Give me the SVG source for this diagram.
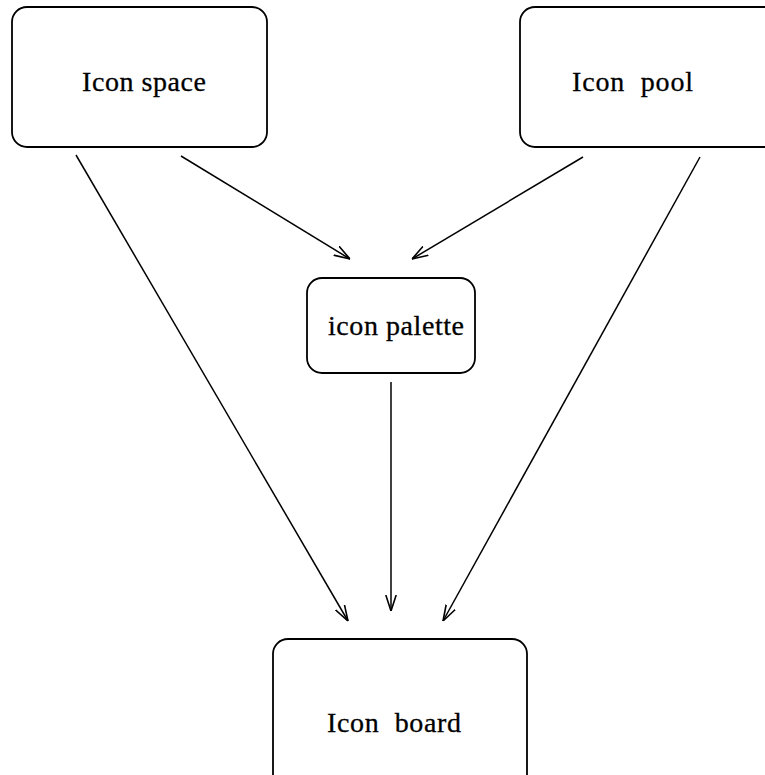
<svg xmlns="http://www.w3.org/2000/svg" width="765" height="775" viewBox="0 0 765 775">
<style>
.box{fill:#fff;stroke:#000;stroke-width:1.8}
.lbl{font-family:"Liberation Serif","Times New Roman",serif;font-size:28px;fill:#000;stroke:#000;stroke-width:0.3}
.edge{stroke:#000;stroke-width:1.5;fill:none;marker-end:url(#arr)}
</style>
<defs>
<marker id="arr" viewBox="0 0 16 12" refX="16" refY="6" markerWidth="16" markerHeight="12" markerUnits="userSpaceOnUse" orient="auto">
<path d="M0,0.8 L16,6 L0,11.2" fill="none" stroke="#000" stroke-width="1.6"/>
</marker>
</defs>
<rect width="765" height="775" fill="#fff"/>
<g id="icon-space">
<rect class="box" x="12" y="7" width="255" height="140" rx="15"/>
<text class="lbl" x="82" y="91" textLength="124" lengthAdjust="spacing">Icon space</text>
</g>
<g id="icon-pool">
<rect class="box" x="520" y="7" width="260" height="140" rx="15"/>
<text class="lbl" x="572" y="91" textLength="121" lengthAdjust="spacing" xml:space="preserve">Icon  pool</text>
</g>
<g id="icon-palette">
<rect class="box" x="307" y="278" width="168" height="95" rx="15"/>
<text class="lbl" x="328" y="335" textLength="136" lengthAdjust="spacing">icon palette</text>
</g>
<g id="icon-board">
<rect class="box" x="273" y="639" width="254" height="160" rx="15"/>
<text class="lbl" x="327" y="732" textLength="134" lengthAdjust="spacing" xml:space="preserve">Icon  board</text>
</g>
<g id="connectors">
<line class="edge" x1="181" y1="156" x2="350" y2="259"/>
<line class="edge" x1="583" y1="157" x2="412" y2="259"/>
<line class="edge" x1="76" y1="155" x2="348" y2="621"/>
<line class="edge" x1="700" y1="157" x2="443" y2="621"/>
<line class="edge" x1="391" y1="382" x2="391" y2="611"/>
</g>
</svg>
